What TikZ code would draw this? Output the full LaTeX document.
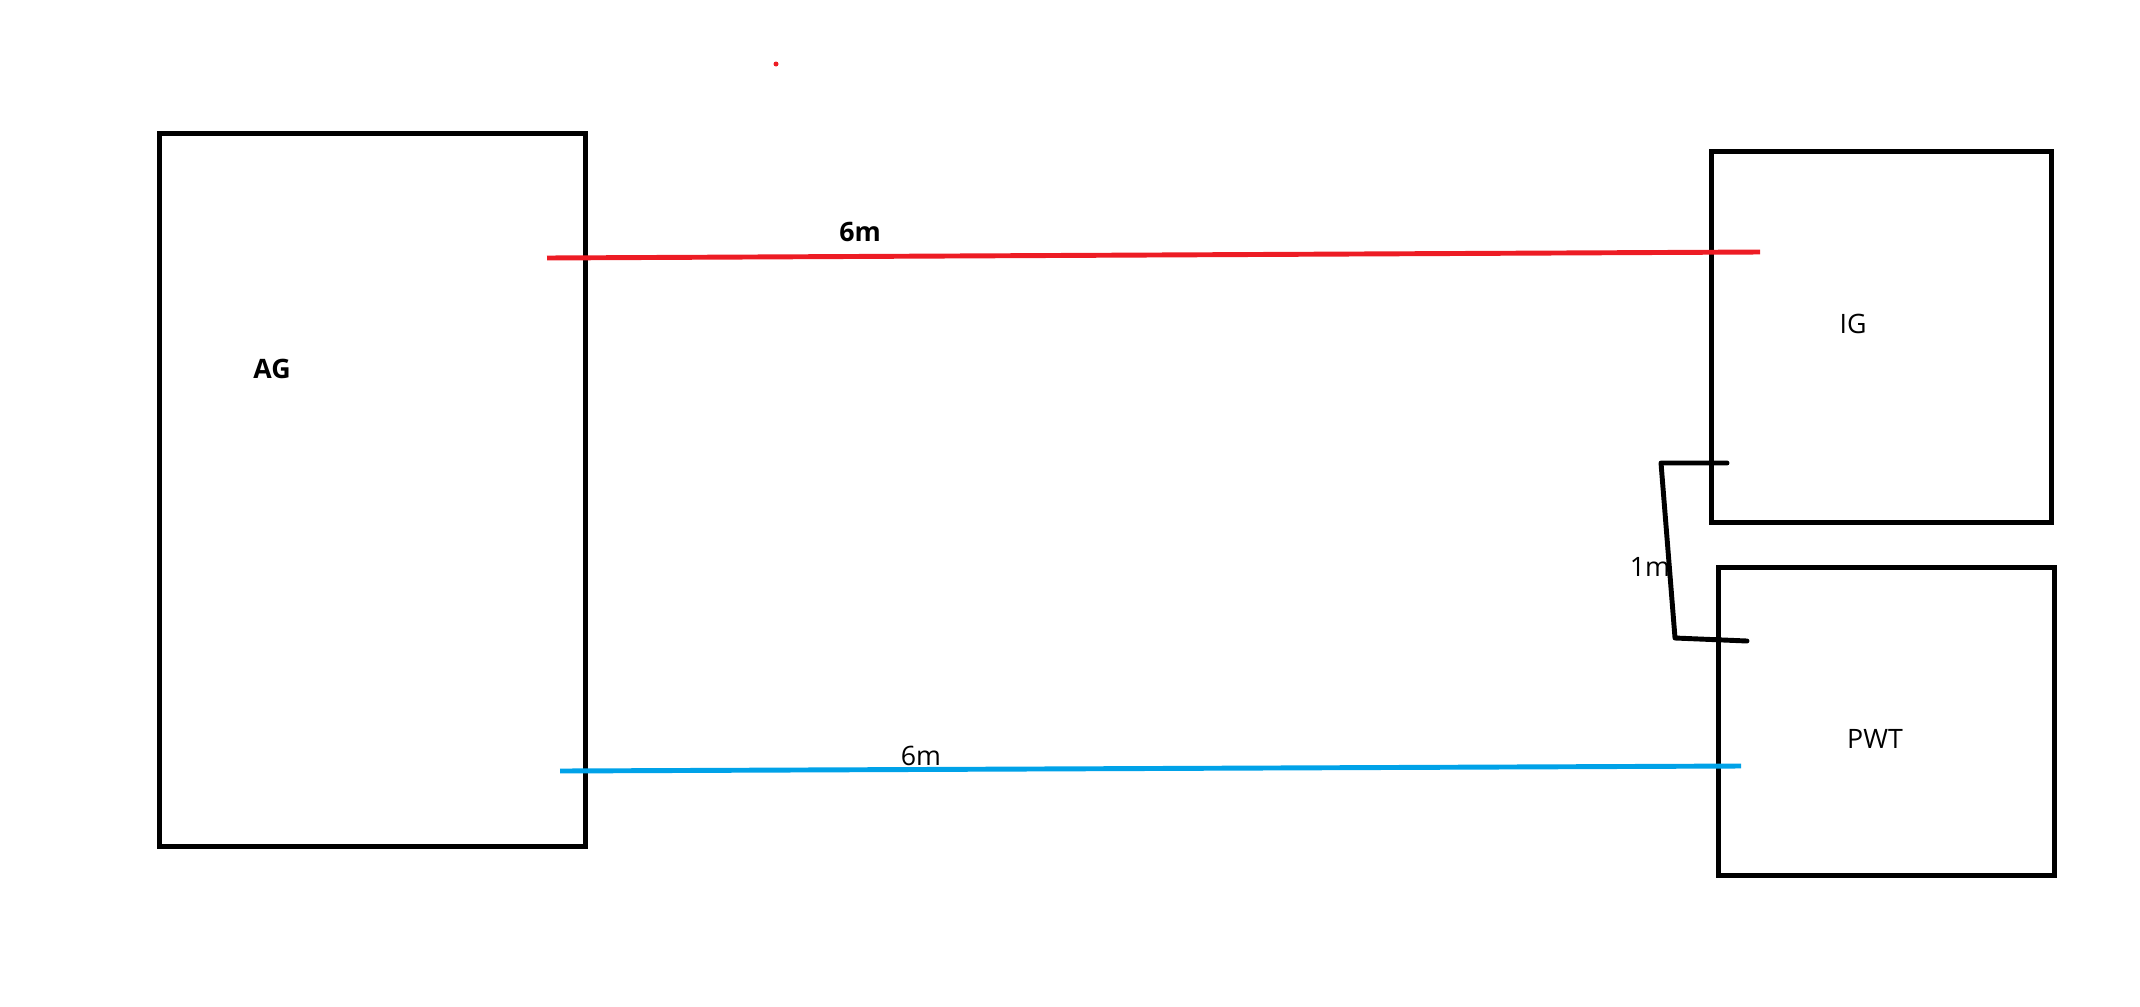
\documentclass[tikz,border=0pt]{standalone}
\usepackage{fontspec}
\setmainfont{Open Sans}
\usepackage{xcolor}
\usetikzlibrary{positioning}
\definecolor{wirered}{HTML}{ED1C24}
\definecolor{wireblue}{HTML}{00A2E8}

\begin{document}
\begin{tikzpicture}[x=0.01cm,y=-0.01cm,
  box/.style={draw=black,line width=1.4pt,inner sep=0pt,anchor=north west},
  lbl/.style={inner sep=0pt,font=\fontsize{7.6}{9}\selectfont},
  wire/.style={line width=1.4pt}]
  \useasboundingbox(0,0)rectangle(2140,1006);
  \node[box,minimum width=4.26cm,minimum height=7.13cm](ag)at(157,131){};
  \node[box,minimum width=3.40cm,minimum height=3.71cm](ig)at(1709,149){};
  \node[box,minimum width=3.36cm,minimum height=3.08cm](pwt)at(1716,565){};
  \node[lbl,font=\fontsize{7.6}{9}\selectfont\bfseries](agl)at(272,369){AG};
  \node[lbl](igl)at(1853,324){IG};
  \node[lbl](pwtl)at(1875,739){PWT};
  % wires between the boxes
  \coordinate(r1)at(547,258);\coordinate(r2)at(1760,252);
  \coordinate(b1)at(560,771);\coordinate(b2)at(1741,766);
  \draw[wire,wirered](r1)--(r2);
  \draw[wire,wireblue](b1)--(b2);
  \node[lbl,font=\fontsize{7.6}{9}\selectfont\bfseries](redl)at(860,232){6m};
  \node[lbl](bluel)at(921,756){6m};
  % link IG to PWT
  \coordinate(k1)at(1727,463);\coordinate(k2)at(1661,463);
  \coordinate(k3)at(1675,638);\coordinate(k4)at(1747,641);
  \draw[wire,line cap=round,line join=round](k1)--(k2)--(k3)--(k4);
  \node[lbl](linkl)at(1650,567){1m};
  \fill[wirered](776,64)circle(2.5);
\end{tikzpicture}
\end{document}
